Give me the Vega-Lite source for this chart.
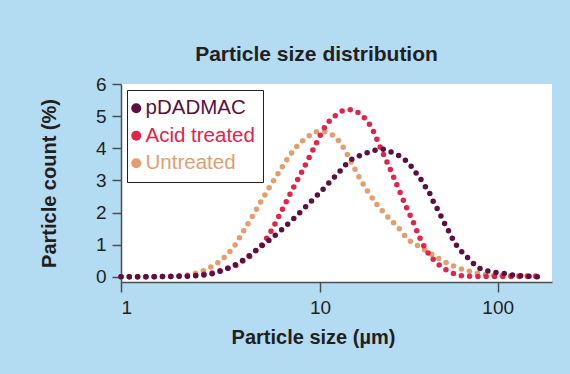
{
  "$schema": "https://vega.github.io/schema/vega-lite/v6.json",
  "width": 431,
  "height": 198,
  "autosize": {"type": "none"},
  "padding": {"left": 121, "top": 84, "right": 18, "bottom": 92},
  "background": "#b3dcf3",
  "title": {"text": "Particle size distribution", "fontSize": 21, "fontWeight": "bold", "color": "#231f20", "font": "Liberation Sans", "offset": 10, "dx": -20, "anchor": "middle"},
  "data": {"values": [
    {"sample": "Untreated", "size": 1, "count": 0},
    {"sample": "Untreated", "size": 1.76, "count": 0.01},
    {"sample": "Untreated", "size": 2.37, "count": 0.11},
    {"sample": "Untreated", "size": 2.8, "count": 0.29},
    {"sample": "Untreated", "size": 3.28, "count": 0.59},
    {"sample": "Untreated", "size": 3.73, "count": 0.98},
    {"sample": "Untreated", "size": 4.12, "count": 1.42},
    {"sample": "Untreated", "size": 4.55, "count": 1.86},
    {"sample": "Untreated", "size": 5.01, "count": 2.31},
    {"sample": "Untreated", "size": 5.5, "count": 2.73},
    {"sample": "Untreated", "size": 6.1, "count": 3.17},
    {"sample": "Untreated", "size": 6.75, "count": 3.61},
    {"sample": "Untreated", "size": 7.57, "count": 4.03},
    {"sample": "Untreated", "size": 8.74, "count": 4.37},
    {"sample": "Untreated", "size": 9.47, "count": 4.51},
    {"sample": "Untreated", "size": 10.43, "count": 4.52},
    {"sample": "Untreated", "size": 11.53, "count": 4.44},
    {"sample": "Untreated", "size": 12.58, "count": 4.27},
    {"sample": "Untreated", "size": 13.42, "count": 4.06},
    {"sample": "Untreated", "size": 14.89, "count": 3.6},
    {"sample": "Untreated", "size": 16.43, "count": 3.15},
    {"sample": "Untreated", "size": 18.32, "count": 2.71},
    {"sample": "Untreated", "size": 20.66, "count": 2.29},
    {"sample": "Untreated", "size": 23.73, "count": 1.9},
    {"sample": "Untreated", "size": 27.58, "count": 1.53},
    {"sample": "Untreated", "size": 31.67, "count": 1.14},
    {"sample": "Untreated", "size": 34.7, "count": 1.0},
    {"sample": "Untreated", "size": 38.1, "count": 0.87},
    {"sample": "Untreated", "size": 45.7, "count": 0.6},
    {"sample": "Untreated", "size": 55.1, "count": 0.36},
    {"sample": "Untreated", "size": 67.4, "count": 0.19},
    {"sample": "Untreated", "size": 83, "count": 0.08},
    {"sample": "Untreated", "size": 103, "count": 0.04},
    {"sample": "Untreated", "size": 176.7, "count": 0.03},
    {"sample": "Acid treated", "size": 1, "count": 0},
    {"sample": "Acid treated", "size": 2.15, "count": 0.03},
    {"sample": "Acid treated", "size": 2.61, "count": 0.08},
    {"sample": "Acid treated", "size": 2.87, "count": 0.12},
    {"sample": "Acid treated", "size": 3.14, "count": 0.19},
    {"sample": "Acid treated", "size": 3.42, "count": 0.26},
    {"sample": "Acid treated", "size": 3.75, "count": 0.34},
    {"sample": "Acid treated", "size": 4.09, "count": 0.49},
    {"sample": "Acid treated", "size": 4.41, "count": 0.62},
    {"sample": "Acid treated", "size": 4.73, "count": 0.8},
    {"sample": "Acid treated", "size": 5.07, "count": 0.98},
    {"sample": "Acid treated", "size": 5.65, "count": 1.4},
    {"sample": "Acid treated", "size": 6.17, "count": 1.85},
    {"sample": "Acid treated", "size": 6.73, "count": 2.31},
    {"sample": "Acid treated", "size": 7.34, "count": 2.77},
    {"sample": "Acid treated", "size": 8.03, "count": 3.22},
    {"sample": "Acid treated", "size": 8.78, "count": 3.69},
    {"sample": "Acid treated", "size": 9.55, "count": 4.14},
    {"sample": "Acid treated", "size": 10.43, "count": 4.58},
    {"sample": "Acid treated", "size": 11.13, "count": 4.81},
    {"sample": "Acid treated", "size": 11.99, "count": 4.98},
    {"sample": "Acid treated", "size": 13.08, "count": 5.14},
    {"sample": "Acid treated", "size": 14.43, "count": 5.2},
    {"sample": "Acid treated", "size": 16.01, "count": 5.14},
    {"sample": "Acid treated", "size": 17.53, "count": 4.98},
    {"sample": "Acid treated", "size": 18.7, "count": 4.8},
    {"sample": "Acid treated", "size": 19.8, "count": 4.57},
    {"sample": "Acid treated", "size": 21.57, "count": 4.1},
    {"sample": "Acid treated", "size": 23.52, "count": 3.64},
    {"sample": "Acid treated", "size": 25.66, "count": 3.17},
    {"sample": "Acid treated", "size": 27.95, "count": 2.68},
    {"sample": "Acid treated", "size": 30.36, "count": 2.21},
    {"sample": "Acid treated", "size": 33.24, "count": 1.74},
    {"sample": "Acid treated", "size": 36.07, "count": 1.27},
    {"sample": "Acid treated", "size": 39.86, "count": 0.81},
    {"sample": "Acid treated", "size": 45.7, "count": 0.42},
    {"sample": "Acid treated", "size": 54.6, "count": 0.14},
    {"sample": "Acid treated", "size": 67, "count": 0.02},
    {"sample": "Acid treated", "size": 100, "count": 0.01},
    {"sample": "Acid treated", "size": 176.7, "count": 0.01},
    {"sample": "pDADMAC", "size": 1, "count": 0},
    {"sample": "pDADMAC", "size": 2.15, "count": 0.02},
    {"sample": "pDADMAC", "size": 2.87, "count": 0.1},
    {"sample": "pDADMAC", "size": 3.42, "count": 0.26},
    {"sample": "pDADMAC", "size": 4.06, "count": 0.5},
    {"sample": "pDADMAC", "size": 4.71, "count": 0.8},
    {"sample": "pDADMAC", "size": 5.5, "count": 1.12},
    {"sample": "pDADMAC", "size": 6.37, "count": 1.45},
    {"sample": "pDADMAC", "size": 7.34, "count": 1.8},
    {"sample": "pDADMAC", "size": 8.41, "count": 2.16},
    {"sample": "pDADMAC", "size": 9.62, "count": 2.52},
    {"sample": "pDADMAC", "size": 11.13, "count": 2.9},
    {"sample": "pDADMAC", "size": 12.84, "count": 3.27},
    {"sample": "pDADMAC", "size": 15.08, "count": 3.66},
    {"sample": "pDADMAC", "size": 16.51, "count": 3.76},
    {"sample": "pDADMAC", "size": 18.22, "count": 3.85},
    {"sample": "pDADMAC", "size": 20.13, "count": 3.93},
    {"sample": "pDADMAC", "size": 22.41, "count": 3.97},
    {"sample": "pDADMAC", "size": 24.86, "count": 3.89},
    {"sample": "pDADMAC", "size": 27.48, "count": 3.79},
    {"sample": "pDADMAC", "size": 30.08, "count": 3.64},
    {"sample": "pDADMAC", "size": 32.39, "count": 3.46},
    {"sample": "pDADMAC", "size": 34.56, "count": 3.25},
    {"sample": "pDADMAC", "size": 36.87, "count": 3.04},
    {"sample": "pDADMAC", "size": 38.99, "count": 2.82},
    {"sample": "pDADMAC", "size": 41.23, "count": 2.62},
    {"sample": "pDADMAC", "size": 43.07, "count": 2.38},
    {"sample": "pDADMAC", "size": 45.37, "count": 2.15},
    {"sample": "pDADMAC", "size": 47.78, "count": 1.91},
    {"sample": "pDADMAC", "size": 50.06, "count": 1.68},
    {"sample": "pDADMAC", "size": 52.72, "count": 1.45},
    {"sample": "pDADMAC", "size": 55.09, "count": 1.24},
    {"sample": "pDADMAC", "size": 58.0, "count": 1.02},
    {"sample": "pDADMAC", "size": 62.1, "count": 0.81},
    {"sample": "pDADMAC", "size": 67.2, "count": 0.62},
    {"sample": "pDADMAC", "size": 72.3, "count": 0.44},
    {"sample": "pDADMAC", "size": 78.2, "count": 0.28},
    {"sample": "pDADMAC", "size": 86.7, "count": 0.19},
    {"sample": "pDADMAC", "size": 95.7, "count": 0.14},
    {"sample": "pDADMAC", "size": 106.2, "count": 0.11},
    {"sample": "pDADMAC", "size": 117.8, "count": 0.07},
    {"sample": "pDADMAC", "size": 131.3, "count": 0.04},
    {"sample": "pDADMAC", "size": 145.5, "count": 0.02},
    {"sample": "pDADMAC", "size": 180.6, "count": 0}
  ]},
  "mark": {"type": "line", "strokeDash": [0, 8.3], "strokeCap": "round", "strokeWidth": 5.5, "interpolate": "monotone"},
  "encoding": {
    "x": {
      "field": "size", "type": "quantitative",
      "scale": {"type": "log", "domain": [1, 10, 100, 202], "range": [0, 199, 376.7, 431], "nice": false},
      "axis": {"values": [1, 10, 100], "format": "d", "title": "Particle size (µm)", "grid": false,
        "domainColor": "#4d4d4d", "domainWidth": 1.5, "tickColor": "#4d4d4d", "tickWidth": 1.5, "tickSize": 10,
        "labelFont": "Liberation Sans", "labelFontSize": 19, "labelColor": "#231f20", "labelPadding": 6,
        "titleFont": "Liberation Sans", "titleFontSize": 20, "titleFontWeight": "bold", "titleColor": "#231f20",
        "titlePadding": 10, "titleX": 192}
    },
    "y": {
      "field": "count", "type": "quantitative",
      "scale": {"domain": [-0.16, 6], "nice": false, "zero": false},
      "axis": {"values": [0, 1, 2, 3, 4, 5, 6], "title": "Particle count (%)", "grid": false,
        "domainColor": "#4d4d4d", "domainWidth": 1.5, "tickColor": "#4d4d4d", "tickWidth": 1.5, "tickSize": 9,
        "labelFont": "Liberation Sans", "labelFontSize": 19, "labelColor": "#231f20", "labelPadding": 6,
        "titleFont": "Liberation Sans", "titleFontSize": 20, "titleFontWeight": "bold", "titleColor": "#231f20",
        "titlePadding": 36}
    },
    "color": {
      "field": "sample", "type": "nominal",
      "scale": {"domain": ["pDADMAC", "Acid treated", "Untreated"], "range": ["#5c0f40", "#e0244a", "#e39d6f"]},
      "legend": {"title": null, "orient": "top-left", "offset": 6, "strokeColor": "#231f20", "fillColor": "white",
        "padding": 8, "symbolType": "circle", "symbolSize": 100, "symbolStrokeWidth": 0, "symbolOffset": -9, "labelFont": "Liberation Sans", "labelFontSize": 20.5,
        "rowPadding": 6.5, "labelOffset": -1, "labelLimit": 300,
        "encode": {
          "labels": {"update": {"fill": {"scale": "color", "field": "value"}}},
          "symbols": {"update": {"shape": {"value": "circle"}, "size": {"value": 100}, "fill": {"scale": "color", "field": "value"}, "stroke": {"value": "transparent"}, "strokeWidth": {"value": 0}, "strokeDash": {"value": []}, "opacity": {"value": 1}}}
        }
      }
    }
  },
  "config": {"view": {"fill": "white", "stroke": null}}
}
